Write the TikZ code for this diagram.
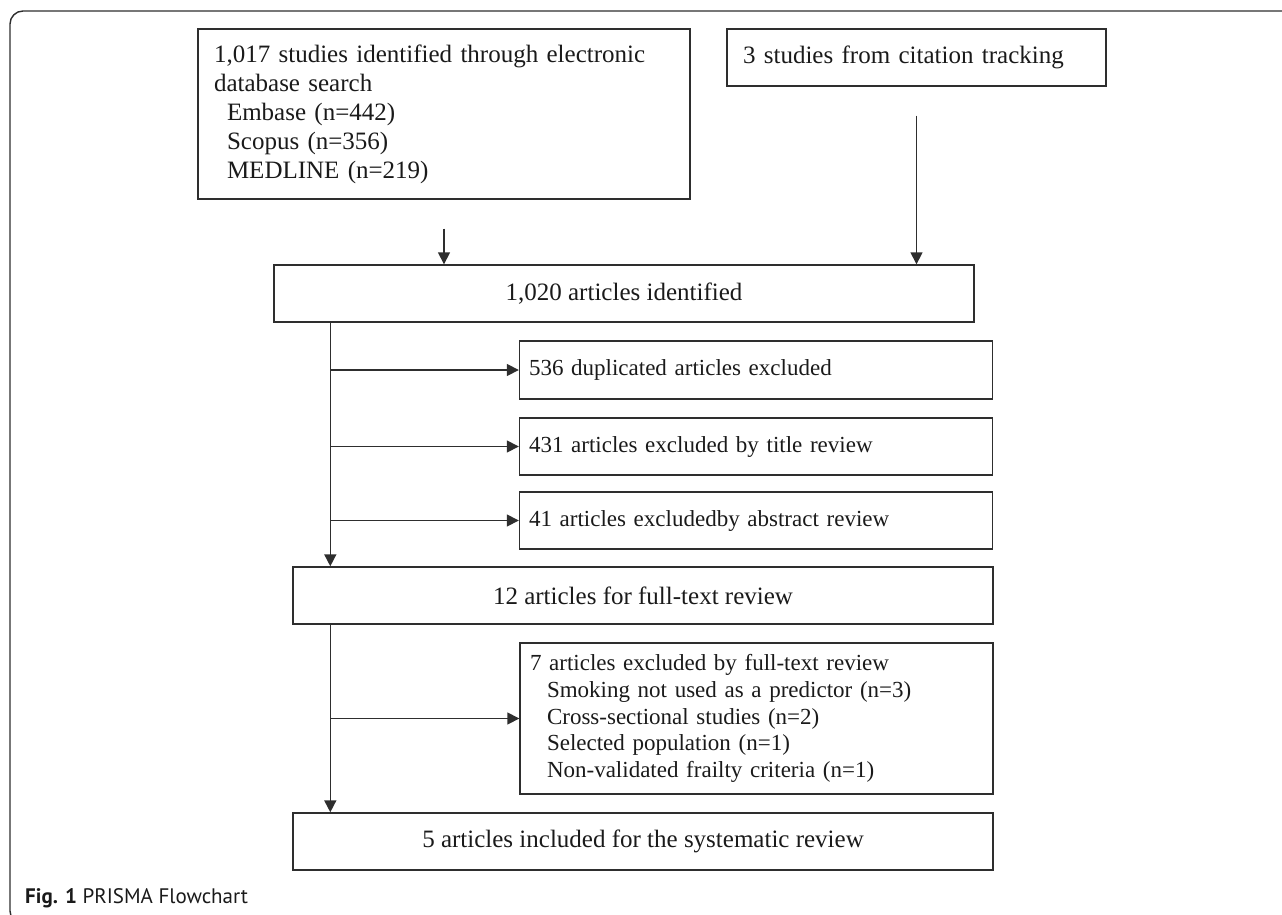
\documentclass[tikz,border=0pt]{standalone}
\usepackage{fontspec}
\setmainfont{Liberation Serif}
\newfontfamily\capfont{PT Sans}
\usetikzlibrary{arrows.meta}
\definecolor{linec}{HTML}{2E2E2E}
\definecolor{textc}{HTML}{1A1A1A}
\begin{document}
\begin{tikzpicture}[x=1pt,y=-1pt,
  box/.style={draw=linec, line width=1.4pt, inner sep=0pt, text=textc},
  bigtext/.style={font=\fontsize{25}{29}\selectfont},
  smalltext/.style={font=\fontsize{23}{26.7}\selectfont},
  arr/.style={draw=linec, line width=1.6pt, -{Triangle[length=12pt,width=12pt]}}]
\useasboundingbox (0,0) rectangle (1282,915);
\clip (0,0) rectangle (1282,915);
% outer frame
\draw[draw=linec, line width=1.4pt, rounded corners=13pt] (1300,11) -- (10,11) -- (10,924) -- (1300,924);
% boxes
\node[box, bigtext, minimum width=492pt, minimum height=170pt, text width=460pt, align=left] (db) at (444,114)
  {1,017 studies identified through electronic\\database search\\\hspace*{13pt}Embase (n=442)\\\hspace*{13pt}Scopus (n=356)\\\hspace*{13pt}MEDLINE (n=219)};
\node[box, bigtext, minimum width=379pt, minimum height=57pt, text width=347pt, align=left] (cit) at (916.5,57.5)
  {3 studies from citation tracking};
\node[box, bigtext, minimum width=700pt, minimum height=57pt] (ident) at (624,293.5) {1,020 articles identified};
\node[box, smalltext, minimum width=473pt, minimum height=58pt, text width=454pt, align=left] (ex1) at (756,370) {536 duplicated articles excluded};
\node[box, smalltext, minimum width=473pt, minimum height=57pt, text width=454pt, align=left] (ex2) at (756,446.5) {431 articles excluded by title review};
\node[box, smalltext, minimum width=473pt, minimum height=57pt, text width=454pt, align=left] (ex3) at (756,520.5) {41 articles excludedby abstract review};
\node[box, bigtext, minimum width=700pt, minimum height=57pt] (full) at (643,595.5) {12 articles for full-text review};
\node[box, smalltext, minimum width=473pt, minimum height=151pt, text width=453pt, align=left] (ex4) at (756.5,718.5)
  {7 articles excluded by full-text review\\\hspace*{17pt}Smoking not used as a predictor (n=3)\\\hspace*{17pt}Cross-sectional studies (n=2)\\\hspace*{17pt}Selected population (n=1)\\\hspace*{17pt}Non-validated frailty criteria (n=1)};
\node[box, bigtext, minimum width=700pt, minimum height=57pt] (incl) at (643,841.5) {5 articles included for the systematic review};
% connectors
\path (db.south) ++(0,29) coordinate (s1);
\path (cit.south) ++(0,29) coordinate (s2);
\draw[arr] (s1) -- (s1 |- ident.north);
\draw[arr] (s2) -- (s2 |- ident.north);
\path (ident.south west) ++(57,0) coordinate (t0);
\draw[arr] (t0) -- (t0 |- full.north);
\foreach \e in {ex1,ex2,ex3} {\draw[arr] (t0 |- \e.west) -- (\e.west);}
\path (full.south west) ++(38,0) coordinate (t1);
\draw[arr] (t1) -- (t1 |- incl.north);
\draw[arr] (t1 |- ex4.west) -- (ex4.west);
% caption
\node[anchor=base west, inner sep=0pt, text=textc, font=\capfont\fontsize{21}{21}\selectfont] (cap) at (25,903) {\textbf{Fig. 1} PRISMA Flowchart};
\end{tikzpicture}
\end{document}
